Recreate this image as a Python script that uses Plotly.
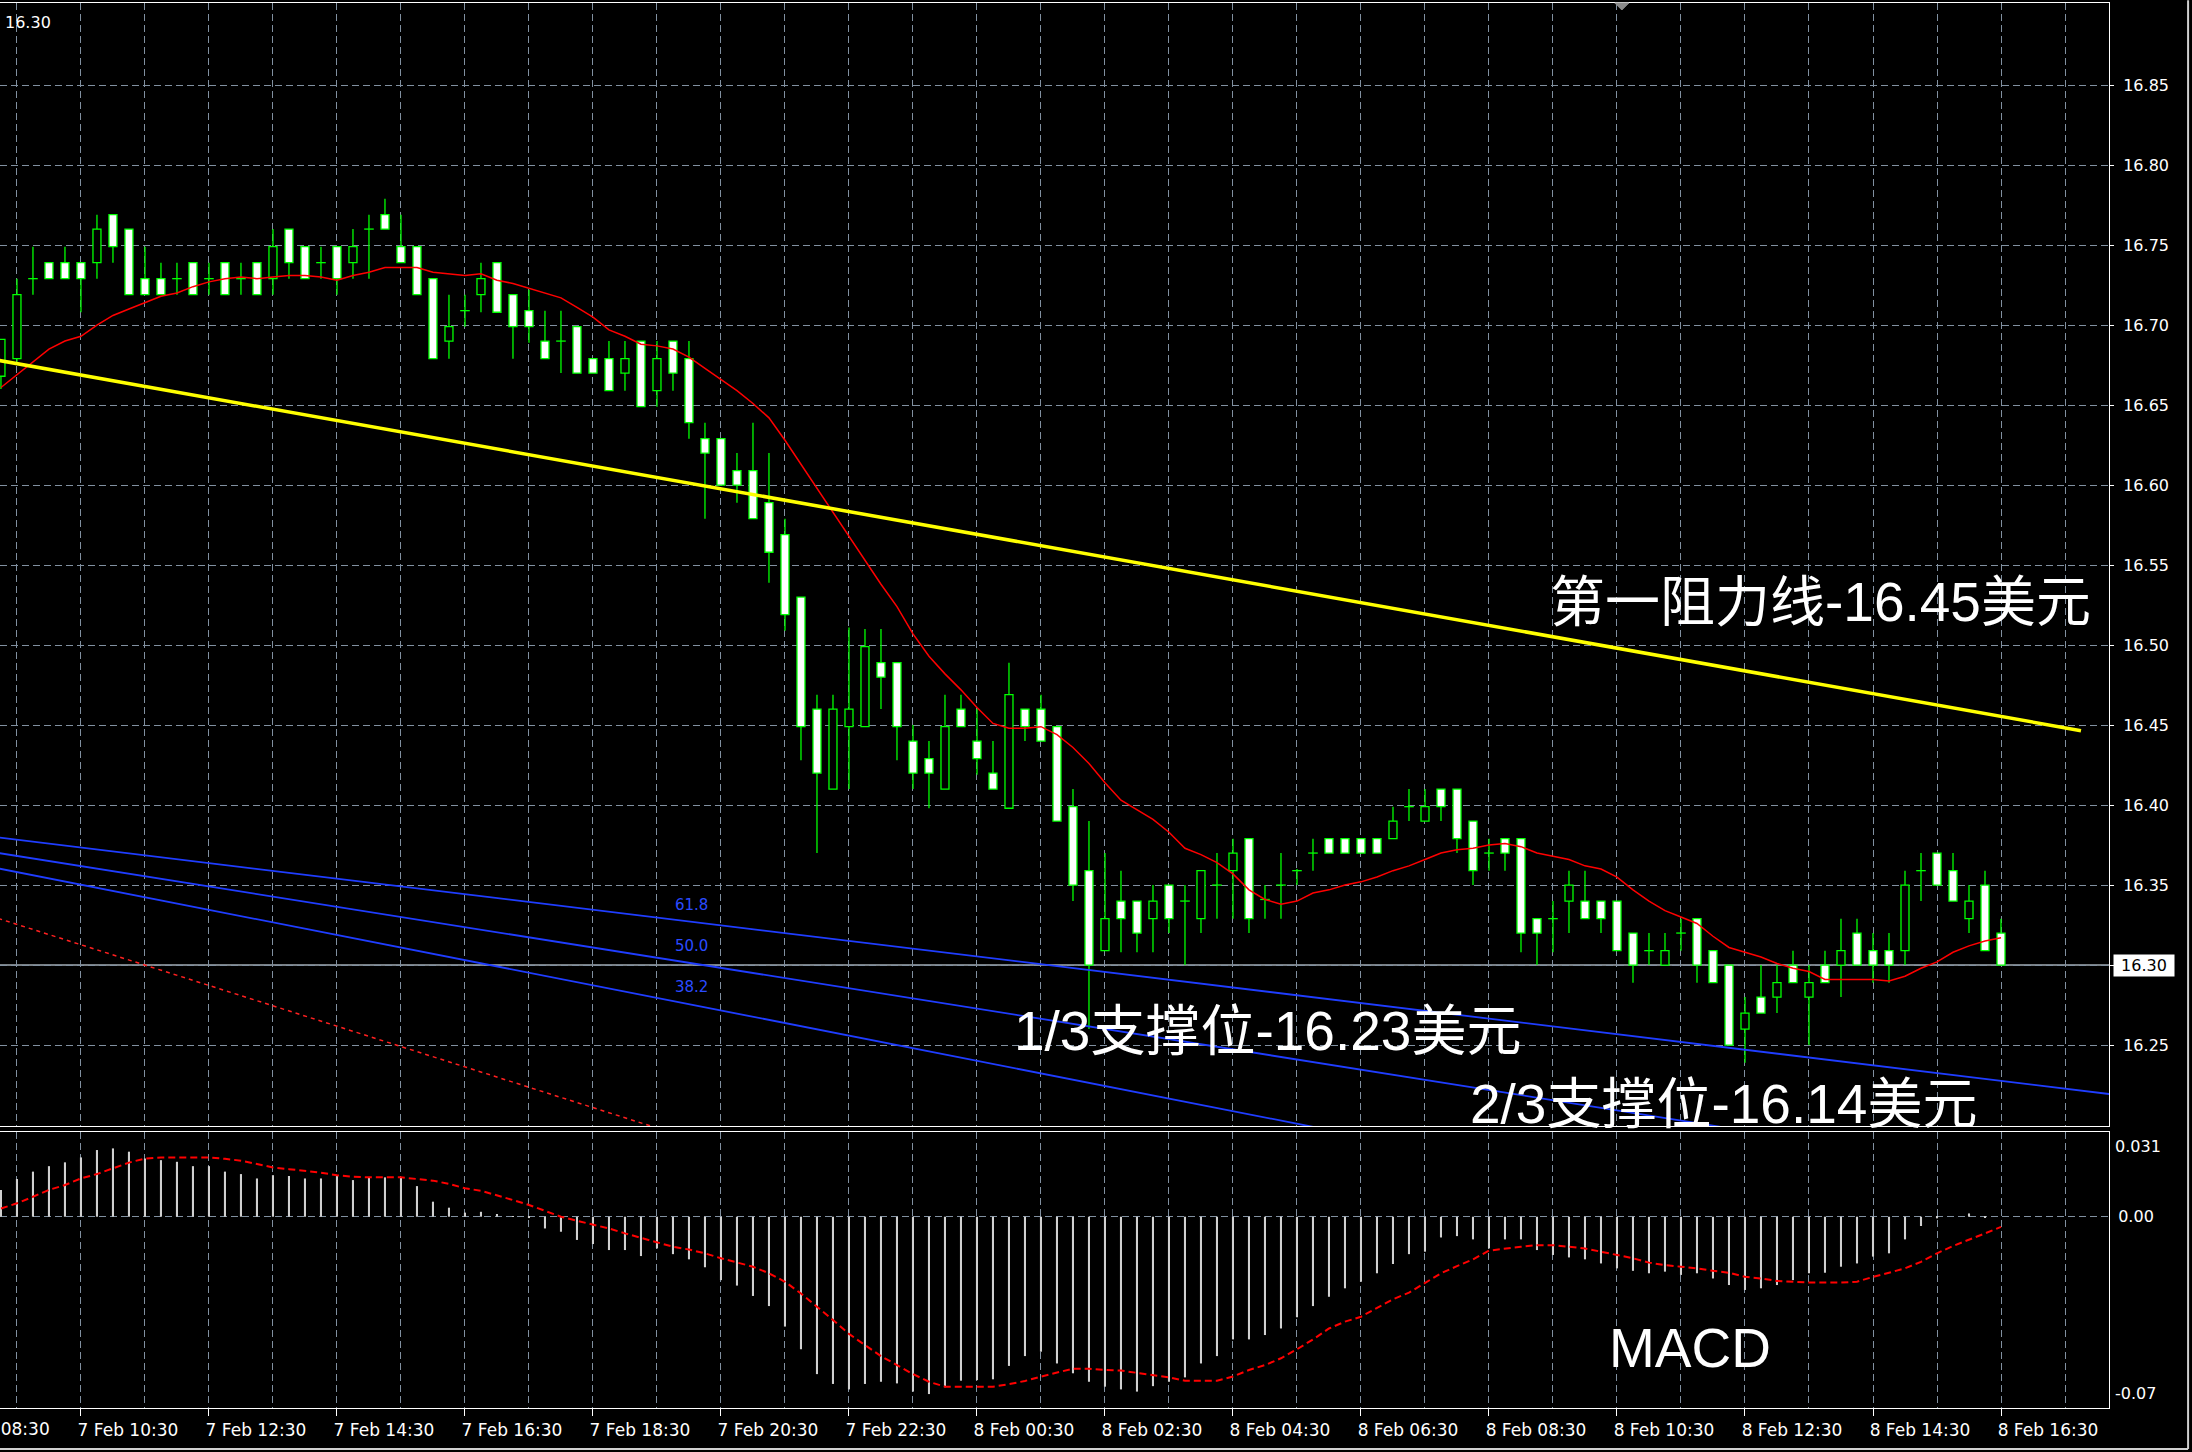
import plotly.graph_objects as go

# ---------------- XAGUSD M15 bars (bar index 0 = 7 Feb 08:30) ----------------
FIRST_BAR = 3

opens = [
    16.668, 16.679, 16.729, 16.739, 16.739, 16.739, 16.739, 16.769, 16.760, 16.729,
    16.729, 16.729, 16.739, 16.729, 16.739, 16.729, 16.739, 16.729, 16.760, 16.749,
    16.739, 16.749, 16.739, 16.760, 16.769, 16.749, 16.749, 16.729, 16.690, 16.709,
    16.719, 16.739, 16.719, 16.709, 16.690, 16.690, 16.699, 16.679, 16.679, 16.670,
    16.690, 16.659, 16.690, 16.679, 16.629, 16.629, 16.609, 16.609, 16.589, 16.569,
    16.530, 16.460, 16.410, 16.449, 16.449, 16.489, 16.489, 16.440, 16.429, 16.410,
    16.460, 16.440, 16.420, 16.398, 16.460, 16.460, 16.449, 16.399, 16.359, 16.309,
    16.340, 16.340, 16.329, 16.350, 16.340, 16.329, 16.350, 16.359, 16.379, 16.341,
    16.350, 16.359, 16.370, 16.379, 16.379, 16.379, 16.379, 16.379, 16.399, 16.390,
    16.410, 16.410, 16.390, 16.370, 16.379, 16.379, 16.329, 16.329, 16.340, 16.340,
    16.340, 16.340, 16.320, 16.309, 16.300, 16.320, 16.329, 16.309, 16.300, 16.260,
    16.280, 16.280, 16.300, 16.280, 16.300, 16.300, 16.320, 16.309, 16.309, 16.309,
    16.359, 16.370, 16.359, 16.329, 16.350, 16.320,
]
highs = [
    16.691, 16.729, 16.749, 16.739, 16.749, 16.739, 16.769, 16.769, 16.760, 16.749,
    16.739, 16.739, 16.739, 16.739, 16.739, 16.739, 16.739, 16.760, 16.760, 16.749,
    16.749, 16.749, 16.760, 16.769, 16.779, 16.769, 16.749, 16.729, 16.719, 16.719,
    16.739, 16.739, 16.719, 16.722, 16.709, 16.709, 16.699, 16.679, 16.690, 16.690,
    16.690, 16.690, 16.690, 16.690, 16.639, 16.629, 16.620, 16.639, 16.620, 16.579,
    16.530, 16.469, 16.469, 16.511, 16.510, 16.510, 16.489, 16.450, 16.440, 16.469,
    16.469, 16.460, 16.440, 16.489, 16.460, 16.469, 16.449, 16.410, 16.390, 16.370,
    16.359, 16.340, 16.350, 16.350, 16.350, 16.359, 16.370, 16.379, 16.379, 16.350,
    16.370, 16.360, 16.379, 16.379, 16.379, 16.379, 16.379, 16.399, 16.410, 16.410,
    16.410, 16.410, 16.390, 16.379, 16.379, 16.379, 16.329, 16.340, 16.359, 16.359,
    16.340, 16.340, 16.320, 16.320, 16.320, 16.329, 16.329, 16.309, 16.300, 16.280,
    16.300, 16.300, 16.309, 16.300, 16.309, 16.329, 16.329, 16.320, 16.320, 16.359,
    16.370, 16.370, 16.370, 16.350, 16.359, 16.329,
]
lows = [
    16.660, 16.677, 16.719, 16.729, 16.729, 16.708, 16.729, 16.739, 16.719, 16.719,
    16.719, 16.719, 16.719, 16.719, 16.719, 16.719, 16.719, 16.719, 16.729, 16.729,
    16.729, 16.719, 16.729, 16.729, 16.760, 16.739, 16.719, 16.679, 16.679, 16.699,
    16.708, 16.708, 16.679, 16.689, 16.679, 16.670, 16.670, 16.670, 16.659, 16.659,
    16.649, 16.649, 16.659, 16.629, 16.579, 16.600, 16.589, 16.579, 16.539, 16.509,
    16.428, 16.370, 16.410, 16.410, 16.449, 16.460, 16.428, 16.410, 16.398, 16.410,
    16.449, 16.419, 16.410, 16.398, 16.440, 16.440, 16.390, 16.340, 16.260, 16.309,
    16.308, 16.308, 16.308, 16.320, 16.300, 16.320, 16.329, 16.329, 16.320, 16.329,
    16.329, 16.350, 16.359, 16.370, 16.370, 16.370, 16.370, 16.379, 16.390, 16.390,
    16.390, 16.370, 16.350, 16.359, 16.359, 16.308, 16.300, 16.308, 16.320, 16.329,
    16.320, 16.309, 16.289, 16.300, 16.300, 16.309, 16.289, 16.289, 16.250, 16.239,
    16.270, 16.270, 16.289, 16.250, 16.289, 16.280, 16.300, 16.289, 16.289, 16.300,
    16.340, 16.350, 16.340, 16.320, 16.309, 16.300,
]
closes = [
    16.691, 16.719, 16.729, 16.729, 16.729, 16.729, 16.760, 16.749, 16.719, 16.719,
    16.719, 16.729, 16.719, 16.729, 16.719, 16.729, 16.719, 16.749, 16.739, 16.729,
    16.739, 16.729, 16.749, 16.760, 16.760, 16.739, 16.719, 16.679, 16.699, 16.709,
    16.729, 16.708, 16.699, 16.699, 16.679, 16.690, 16.670, 16.670, 16.659, 16.679,
    16.649, 16.679, 16.670, 16.639, 16.620, 16.600, 16.600, 16.579, 16.558, 16.519,
    16.449, 16.420, 16.460, 16.460, 16.499, 16.480, 16.449, 16.420, 16.420, 16.449,
    16.449, 16.429, 16.410, 16.469, 16.449, 16.440, 16.390, 16.350, 16.300, 16.329,
    16.329, 16.320, 16.340, 16.329, 16.340, 16.359, 16.350, 16.370, 16.329, 16.341,
    16.350, 16.359, 16.370, 16.370, 16.370, 16.370, 16.370, 16.390, 16.399, 16.399,
    16.399, 16.379, 16.359, 16.370, 16.370, 16.320, 16.320, 16.329, 16.350, 16.329,
    16.329, 16.309, 16.300, 16.309, 16.309, 16.320, 16.300, 16.289, 16.250, 16.270,
    16.270, 16.289, 16.289, 16.289, 16.289, 16.309, 16.300, 16.300, 16.300, 16.350,
    16.359, 16.350, 16.340, 16.340, 16.309, 16.300,
]
moving_average = [
    16.661, 16.669, 16.677, 16.685, 16.690, 16.693, 16.700, 16.706, 16.710, 16.714,
    16.718, 16.720, 16.724, 16.727, 16.729, 16.730, 16.729, 16.730, 16.731, 16.731,
    16.730, 16.728, 16.731, 16.733, 16.736, 16.736, 16.736, 16.733, 16.732, 16.731,
    16.732, 16.728, 16.726, 16.723, 16.720, 16.717, 16.711, 16.705, 16.697, 16.693,
    16.688, 16.687, 16.685, 16.680, 16.673, 16.666, 16.659, 16.651, 16.642, 16.628,
    16.613, 16.598, 16.583, 16.568, 16.553, 16.538, 16.524, 16.507, 16.493, 16.482,
    16.472, 16.461, 16.451, 16.448, 16.448, 16.449, 16.444, 16.436, 16.426, 16.414,
    16.403, 16.397, 16.391, 16.383, 16.373, 16.369, 16.364, 16.357, 16.347, 16.341,
    16.338, 16.340, 16.345, 16.347, 16.350, 16.352, 16.355, 16.359, 16.362, 16.366,
    16.370, 16.372, 16.373, 16.375, 16.376, 16.374, 16.370, 16.368, 16.366, 16.362,
    16.360, 16.355, 16.347, 16.340, 16.334, 16.330, 16.326, 16.318, 16.311, 16.308,
    16.305, 16.301, 16.298, 16.296, 16.291, 16.291, 16.291, 16.291, 16.290, 16.293,
    16.298, 16.302, 16.308, 16.312, 16.315, 16.317,
]
macd_main = [
    0.0098, 0.0138, 0.0165, 0.0185, 0.0199, 0.0217, 0.0244, 0.0250, 0.0238, 0.0213,
    0.0207, 0.0201, 0.0185, 0.0185, 0.0165, 0.0156, 0.0140, 0.0152, 0.0149, 0.0140,
    0.0140, 0.0152, 0.0134, 0.0144, 0.0144, 0.0144, 0.0112, 0.0055, 0.0033, 0.0015,
    0.0018, 0.0010, 0.0002, -0.0005, -0.0043, -0.0055, -0.0085, -0.0100, -0.0122, -0.0122,
    -0.0144, -0.0116, -0.0137, -0.0156, -0.0185, -0.0232, -0.0252, -0.0290, -0.0327, -0.0402,
    -0.0485, -0.0576, -0.0612, -0.0632, -0.0612, -0.0604, -0.0610, -0.0640, -0.0649, -0.0624,
    -0.0600, -0.0598, -0.0595, -0.0546, -0.0510, -0.0494, -0.0537, -0.0573, -0.0604, -0.0622,
    -0.0632, -0.0640, -0.0620, -0.0604, -0.0588, -0.0537, -0.0510, -0.0449, -0.0449, -0.0433,
    -0.0409, -0.0368, -0.0327, -0.0293, -0.0262, -0.0238, -0.0207, -0.0173, -0.0137, -0.0128,
    -0.0076, -0.0071, -0.0083, -0.0116, -0.0083, -0.0083, -0.0122, -0.0140, -0.0149, -0.0156,
    -0.0171, -0.0189, -0.0198, -0.0207, -0.0201, -0.0213, -0.0207, -0.0226, -0.0250, -0.0268,
    -0.0262, -0.0250, -0.0232, -0.0207, -0.0205, -0.0183, -0.0171, -0.0146, -0.0134, -0.0083,
    -0.0034, -0.0006, 0.0000, 0.0012, -0.0002, 0.0000,
]
macd_signal = [
    0.0030, 0.0049, 0.0073, 0.0098, 0.0116, 0.0140, 0.0156, 0.0177, 0.0198, 0.0213,
    0.0217, 0.0217, 0.0217, 0.0217, 0.0212, 0.0205, 0.0193, 0.0180, 0.0174, 0.0168,
    0.0161, 0.0152, 0.0146, 0.0144, 0.0144, 0.0144, 0.0138, 0.0132, 0.0120, 0.0104,
    0.0095, 0.0079, 0.0061, 0.0043, 0.0021, 0.0000, -0.0015, -0.0030, -0.0043, -0.0061,
    -0.0077, -0.0095, -0.0110, -0.0120, -0.0134, -0.0152, -0.0168, -0.0183, -0.0207, -0.0238,
    -0.0281, -0.0329, -0.0378, -0.0429, -0.0470, -0.0510, -0.0543, -0.0576, -0.0604, -0.0622,
    -0.0622, -0.0622, -0.0622, -0.0613, -0.0601, -0.0585, -0.0571, -0.0556, -0.0556, -0.0561,
    -0.0563, -0.0571, -0.0579, -0.0588, -0.0600, -0.0600, -0.0600, -0.0585, -0.0561, -0.0543,
    -0.0518, -0.0485, -0.0449, -0.0409, -0.0384, -0.0366, -0.0335, -0.0302, -0.0278, -0.0241,
    -0.0207, -0.0181, -0.0156, -0.0124, -0.0116, -0.0110, -0.0104, -0.0104, -0.0110, -0.0116,
    -0.0128, -0.0140, -0.0152, -0.0168, -0.0177, -0.0183, -0.0189, -0.0198, -0.0205, -0.0220,
    -0.0226, -0.0235, -0.0238, -0.0241, -0.0241, -0.0241, -0.0238, -0.0220, -0.0205, -0.0189,
    -0.0165, -0.0134, -0.0107, -0.0085, -0.0061, -0.0037,
]
bar_index = list(range(FIRST_BAR, FIRST_BAR + len(closes)))

# time axis labels every 8 bars (2 hours)
time_ticks = list(range(0, 129, 8))
time_labels = [
    "7 Feb 08:30", "7 Feb 10:30", "7 Feb 12:30", "7 Feb 14:30", "7 Feb 16:30",
    "7 Feb 18:30", "7 Feb 20:30", "7 Feb 22:30", "8 Feb 00:30", "8 Feb 02:30",
    "8 Feb 04:30", "8 Feb 06:30", "8 Feb 08:30", "8 Feb 10:30", "8 Feb 12:30",
    "8 Feb 14:30", "8 Feb 16:30",
]
price_ticks = [16.25, 16.30, 16.35, 16.40, 16.45, 16.50, 16.55, 16.60, 16.65, 16.70, 16.75, 16.80, 16.85]

# drawn objects: resistance trend line and Fibonacci fan (bar index, price)
resistance_x = [0, 133]
resistance_y = [16.683, 16.4465]
fan_x = [-22.9, 45.0]
fan_y = [16.411, 16.195]
fan_levels = [61.8, 50.0, 38.2]
fan_ray_end = 140

# view window
X_RANGE = [2.94, 134.75]
PRICE_RANGE = [16.1994, 16.9013]
MACD_RANGE = [-0.07, 0.031]

LIME = "#00ff00"
GRID = "#8190a0"
GRID_DASH = "7px,4px"
AXIS_FONT = dict(family="DejaVu Sans", size=16, color="white")
TIME_FONT = dict(family="DejaVu Sans", size=17, color="white")
TIME_SHIFT = 47
BIG_FONT = dict(family="Liberation Sans, Noto Sans CJK SC, sans-serif", size=55, color="white")

fig = go.Figure()

# ---- candles: wicks, doji ticks and bodies ----
wick_x, wick_y = [], []
doji_x, doji_y = [], []
bull_x, bull_base, bull_h = [], [], []
bear_x, bear_base, bear_h = [], [], []
for i, o, h, l, c in zip(bar_index, opens, highs, lows, closes):
    top, bot = max(o, c), min(o, c)
    if h > top:
        wick_x += [i, i, None]
        wick_y += [top, h, None]
    if l < bot:
        wick_x += [i, i, None]
        wick_y += [bot, l, None]
    if abs(c - o) < 0.0012:
        doji_x += [i - 0.3, i + 0.3, None]
        doji_y += [o, o, None]
    elif c > o:
        bull_x.append(i); bull_base.append(o); bull_h.append(c - o)
    else:
        bear_x.append(i); bear_base.append(c); bear_h.append(o - c)

fig.add_trace(go.Bar(x=bull_x, y=bull_h, base=bull_base, width=0.5,
                     marker=dict(color="black", line=dict(color=LIME, width=1.3)),
                     xaxis="x", yaxis="y", hoverinfo="skip"))
fig.add_trace(go.Bar(x=bear_x, y=bear_h, base=bear_base, width=0.5,
                     marker=dict(color="white", line=dict(color=LIME, width=1.3)),
                     xaxis="x", yaxis="y", hoverinfo="skip"))
fig.add_trace(go.Scatter(x=wick_x, y=wick_y, mode="lines", line=dict(color=LIME, width=1.3),
                         xaxis="x", yaxis="y", hoverinfo="skip"))
fig.add_trace(go.Scatter(x=doji_x, y=doji_y, mode="lines", line=dict(color=LIME, width=1.3),
                         xaxis="x", yaxis="y", hoverinfo="skip"))

# ---- moving average ----
fig.add_trace(go.Scatter(x=bar_index, y=moving_average, mode="lines",
                         line=dict(color="#ff0000", width=1.5), xaxis="x", yaxis="y", hoverinfo="skip"))

# ---- Fibonacci fan: base line (dotted red) and rays (blue) ----
fig.add_trace(go.Scatter(x=fan_x, y=fan_y, mode="lines",
                         line=dict(color="#ff2020", width=1.5, dash="4px,4px"),
                         xaxis="x", yaxis="y", hoverinfo="skip"))
span = fan_x[1] - fan_x[0]
fan_label_pts = []
for lvl in fan_levels:
    p_at_end = fan_y[1] + lvl / 100.0 * (fan_y[0] - fan_y[1])
    slope = (p_at_end - fan_y[0]) / span
    fig.add_trace(go.Scatter(x=[fan_x[0], fan_ray_end],
                             y=[fan_y[0], fan_y[0] + slope * (fan_ray_end - fan_x[0])],
                             mode="lines", line=dict(color="#1f3dff", width=1.8),
                             xaxis="x", yaxis="y", hoverinfo="skip"))
    fan_label_pts.append((lvl, p_at_end))

# ---- resistance trend line ----
fig.add_trace(go.Scatter(x=resistance_x, y=resistance_y, mode="lines",
                         line=dict(color="#ffff00", width=3.5), xaxis="x", yaxis="y", hoverinfo="skip"))

# ---- MACD panel ----
fig.add_trace(go.Bar(x=bar_index, y=macd_main, width=0.13,
                     marker=dict(color="#d0d0d0", line=dict(width=0)),
                     xaxis="x2", yaxis="y2", hoverinfo="skip"))
fig.add_trace(go.Scatter(x=bar_index, y=macd_signal, mode="lines",
                         line=dict(color="#ff0000", width=2, dash="7px,4px"),
                         xaxis="x2", yaxis="y2", hoverinfo="skip"))

current_price = closes[-1]

grid_common = dict(showgrid=True, gridcolor=GRID, griddash=GRID_DASH, gridwidth=1, zeroline=False,
                   showline=True, mirror=True, linecolor="white", linewidth=1)

fig.update_layout(
    width=2192, height=1452, autosize=False,
    paper_bgcolor="black", plot_bgcolor="black",
    margin=dict(l=0, r=83, t=3, b=44, pad=0),
    showlegend=False, barmode="overlay",
    xaxis=dict(domain=[0, 1], range=X_RANGE, anchor="y", matches="x2",
               tickmode="array", tickvals=time_ticks, showticklabels=False, ticks="",
               minor=dict(dtick=4, tick0=0, showgrid=True, gridcolor=GRID, griddash=GRID_DASH),
               **grid_common),
    yaxis=dict(domain=[0.2007, 1], range=PRICE_RANGE, anchor="x", side="right",
               tickmode="array", tickvals=price_ticks, ticktext=[f"{v:.2f}" for v in price_ticks],
               ticks="outside", ticklen=4, tickcolor="white", tickfont=AXIS_FONT,
               ticklabelstandoff=6, **grid_common),
    xaxis2=dict(domain=[0, 1], range=X_RANGE, anchor="y2",
                tickmode="array", tickvals=time_ticks, ticktext=time_labels,
                ticks="outside", ticklen=7, tickcolor="white", tickfont=TIME_FONT,
                ticklabelshift=TIME_SHIFT,
                minor=dict(dtick=4, tick0=0, showgrid=True, gridcolor=GRID, griddash=GRID_DASH),
                **grid_common),
    yaxis2=dict(domain=[0, 0.19644], range=MACD_RANGE, anchor="x2", side="right",
                tickmode="array", tickvals=[0], ticktext=["0.00"], ticks="",
                tickfont=AXIS_FONT, ticklabelstandoff=5, **grid_common),
)

annotations = []
# Fibonacci level captions
for lvl, p in fan_label_pts:
    annotations.append(dict(x=fan_x[1], y=p, xref="x", yref="y", text=f"{lvl:.1f}",
                            showarrow=False, xanchor="left", yanchor="bottom", yshift=3,
                            font=dict(family="DejaVu Sans", size=15, color="#2a4bff")))
# level captions
annotations += [
    dict(x=133.75, y=16.527, xref="x", yref="y", text="第一阻力线-16.45美元",
         showarrow=False, xanchor="right", yanchor="middle", font=BIG_FONT),
    dict(x=66.2, y=16.259, xref="x", yref="y", text="1/3支撑位-16.23美元",
         showarrow=False, xanchor="left", yanchor="middle", font=BIG_FONT),
    dict(x=94.7, y=16.213, xref="x", yref="y", text="2/3支撑位-16.14美元",
         showarrow=False, xanchor="left", yanchor="middle", font=BIG_FONT),
    dict(x=103.4, y=-0.048, xref="x2", yref="y2", text="MACD",
         showarrow=False, xanchor="left", yanchor="middle", font=BIG_FONT),
]
# current price box on the price scale and corner readout
annotations += [
    dict(x=1, y=current_price, xref="paper", yref="y", text=f"{current_price:.2f}",
         showarrow=False, xanchor="left", yanchor="middle", xshift=4,
         bgcolor="white", font=dict(family="DejaVu Sans", size=16, color="black"),
         width=58, height=19, borderpad=1),
    dict(x=0, y=1, xref="paper", yref="paper", text=f"{current_price:.2f}",
         showarrow=False, xanchor="left", yanchor="top", xshift=3, yshift=-8,
         font=AXIS_FONT),
]
# MACD scale extremes
annotations += [
    dict(x=1, y=MACD_RANGE[1], xref="paper", yref="y2", text="0.031", showarrow=False,
         xanchor="left", yanchor="top", xshift=4, yshift=-3, font=AXIS_FONT),
    dict(x=1, y=MACD_RANGE[0], xref="paper", yref="y2", text="-0.07", showarrow=False,
         xanchor="left", yanchor="bottom", xshift=4, yshift=3, font=AXIS_FONT),
]
# first time label, whose tick lies left of the visible window
first_frac = (time_ticks[0] - X_RANGE[0]) / (X_RANGE[1] - X_RANGE[0])
annotations.append(dict(x=first_frac, y=0, xref="paper", yref="paper", text=time_labels[0],
                        showarrow=False, xanchor="center", yanchor="top", xshift=TIME_SHIFT,
                        yshift=-9, font=TIME_FONT))
fig.update_layout(annotations=annotations)

# current price line, window frame and chart-shift marker
fig.update_layout(shapes=[
    dict(type="line", xref="paper", yref="y", x0=0, x1=1, y0=current_price, y1=current_price,
         line=dict(color="#a3acb5", width=1.5), layer="between"),
    dict(type="line", xref="paper", yref="paper", x0=1.0375, x1=1.0375, y0=-0.0292, y1=1.002,
         line=dict(color="#d0d0d0", width=2)),
    dict(type="line", xref="paper", yref="paper", x0=0, x1=1.0375, y0=-0.0292, y1=-0.0292,
         line=dict(color="#d0d0d0", width=2)),
    dict(type="path", xref="paper", yref="paper", xsizemode="pixel", ysizemode="pixel",
         xanchor=0.769, yanchor=1, path="M -7 0 L 7 0 L 0 -7 Z",
         fillcolor="#8a8a8a", line=dict(color="#8a8a8a", width=1)),
])

fig.write_html("out.html")
